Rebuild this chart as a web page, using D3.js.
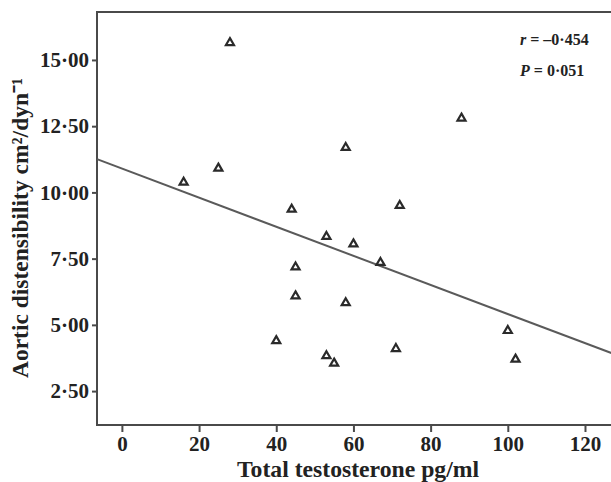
<!DOCTYPE html>
<html>
<head>
<meta charset="utf-8">
<script src="https://cdn.jsdelivr.net/npm/d3@7"></script>
<style>
  body { margin: 0; background: #fff; }
  svg { display: block; }
  .axis text { font-family: "Liberation Serif", "Times New Roman", serif; font-weight: bold; font-size: 21px; fill: #222; }
  .axis path, .axis line { stroke: #4a4a4a; stroke-width: 2px; }
  .title { font-family: "Liberation Serif", "Times New Roman", serif; font-weight: bold; fill: #222; }
</style>
</head>
<body>
<div id="chart"></div>
<script>
// testosterone (pg/ml) vs aortic distensibility (cm2/dyn-1)
var testosterone = [16, 25, 28, 40, 44, 45, 45, 53, 53, 55, 58, 58, 60, 67, 71, 72, 88, 100, 102]
var distensibility = [10.38, 10.91, 15.65, 4.40, 9.36, 7.18, 6.09, 8.33, 3.83, 3.55, 11.69, 5.83, 8.05, 7.35, 4.10, 9.50, 12.80, 4.78, 3.70]
var xTicks = [0, 20, 40, 60, 80, 100, 120]
var yTicks = [2.5, 5, 7.5, 10, 12.5, 15]
var fitLine = [10.90, -0.0549]   // intercept, slope
var statLabels = ["r = –0·454", "P = 0·051"]

var W = 611, H = 482
var margin = {left: 97, top: 12, bottom: 57}

var svg = d3.select("#chart").append("svg").attr("width", W).attr("height", H)

var x = d3.scaleLinear().domain([-6.45, 127]).range([margin.left, 612])
var y = d3.scaleLinear().domain([1.22, 16.81]).range([H - margin.bottom, margin.top])

// frame
svg.append("path")
    .attr("d", "M" + 613 + "," + y(16.81) + "H" + x(-6.45) + "V" + y(1.22) + "H" + 613)
    .attr("fill", "none").attr("stroke", "#4a4a4a").attr("stroke-width", 2)

var xAxis = svg.append("g").attr("class", "axis")
    .attr("transform", "translate(0," + y(1.22) + ")")
    .call(d3.axisBottom(x).tickValues(xTicks).tickSize(7).tickPadding(4).tickFormat(d3.format("d")))
xAxis.select(".domain").remove()

var yAxis = svg.append("g").attr("class", "axis")
    .attr("transform", "translate(" + x(-6.45) + ",0)")
    .call(d3.axisLeft(y).tickValues(yTicks).tickSize(5).tickPadding(3)
        .tickFormat(function(d){ return d.toFixed(2).replace(".", "·") }))
yAxis.select(".domain").remove()

// regression line
var xr = x.domain()
svg.append("line")
    .attr("x1", x(xr[0])).attr("y1", y(fitLine[0] + fitLine[1] * xr[0]))
    .attr("x2", x(xr[1])).attr("y2", y(fitLine[0] + fitLine[1] * xr[1]))
    .attr("stroke", "#5a5a5a").attr("stroke-width", 2)

// triangles
var tri = d3.symbol().type(d3.symbolTriangle).size(28)
svg.selectAll(".pt").data(testosterone).enter().append("path")
    .attr("class", "pt")
    .attr("d", tri)
    .attr("transform", function(d, i){ return "translate(" + x(d) + "," + y(distensibility[i]) + ")" })
    .attr("fill", "#fff").attr("stroke", "#2a2a2a").attr("stroke-width", 2.2)

// stats
var st = svg.selectAll(".stat").data(statLabels).enter().append("text")
    .attr("class", "title stat")
    .attr("x", 520).attr("y", function(d, i){ return 45 + i * 31 })
    .style("font-size", "16px")
st.each(function(d){
    var t = d3.select(this)
    t.append("tspan").style("font-style", "italic").text(d.charAt(0))
    t.append("tspan").text(d.slice(1))
})

// axis titles
svg.append("text").attr("class", "title")
    .attr("x", 358).attr("y", 477)
    .attr("text-anchor", "middle").style("font-size", "23.7px")
    .text("Total testosterone pg/ml")

svg.append("text").attr("class", "title")
    .attr("transform", "translate(28,228) rotate(-90)")
    .attr("text-anchor", "middle").style("font-size", "23.5px")
    .text("Aortic distensibility cm²/dyn⁻¹")
</script>
</body>
</html>
